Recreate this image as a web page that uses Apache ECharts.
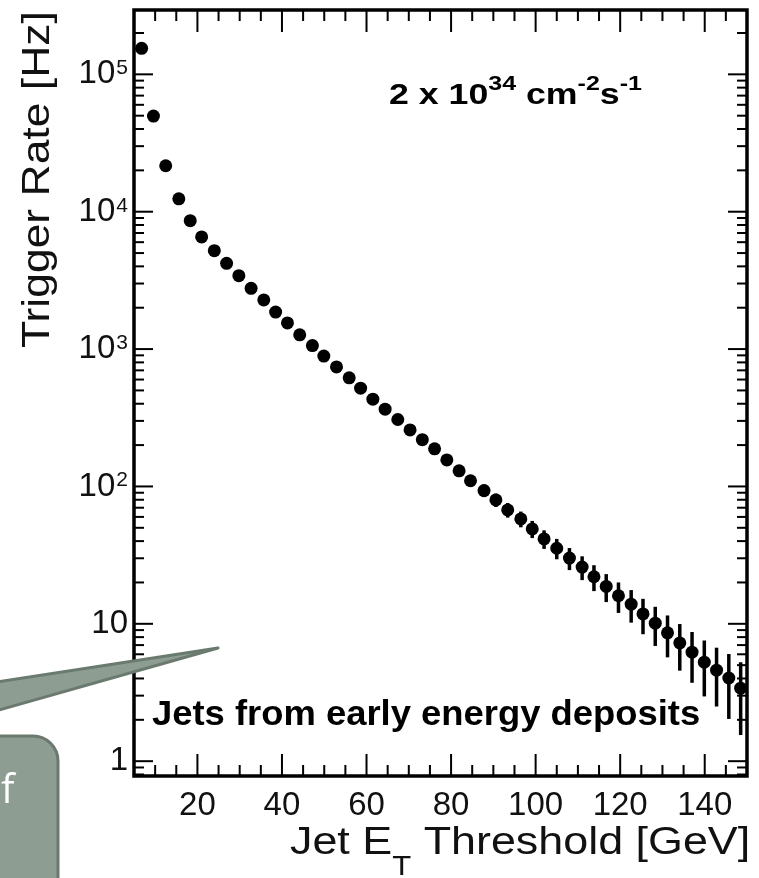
<!DOCTYPE html>
<html>
<head>
<meta charset="utf-8">
<script src="https://cdn.jsdelivr.net/npm/echarts@6.0.0/dist/echarts.min.js"></script>
<style>
  html, body { margin: 0; padding: 0; background: #fff; }
  #chart { width: 759px; height: 878px; }
</style>
</head>
<body>
<div id="chart"></div>
<script>
// jet E_T threshold [GeV]
const thresholds = [6.8, 9.6, 12.5, 15.6, 18.3, 21.0, 24.0, 26.9, 29.8, 32.7,
  35.7, 38.5, 41.3, 44.2, 47.2, 49.9, 52.9, 55.9, 58.6, 61.5,
  64.4, 67.4, 70.3, 73.2, 76.1, 79.0, 81.9, 84.6, 87.8, 90.6,
  93.4, 96.5, 99.2, 102.0, 105.0, 108.0, 111.0, 113.8, 116.7, 119.6,
  122.6, 125.4, 128.3, 131.2, 134.1, 137.0, 139.9, 142.8, 145.7, 148.5]

// trigger rate [Hz]
const rates = [154600, 49700, 21600, 12400, 8610, 6550, 5200, 4210, 3420, 2770,
  2280, 1860, 1550, 1270, 1060, 889, 741, 618, 519, 432,
  365, 307, 258, 219, 188, 156, 130, 110, 93.3, 79.8,
  67.5, 58.0, 49.1, 41.5, 35.5, 30.1, 25.9, 22.0, 18.7, 16.0,
  13.9, 11.8, 10.1, 8.6, 7.26, 6.22, 5.26, 4.60, 4.03, 3.40]

// half length of the error bars [Hz]
const rateErrors = [393, 223, 147, 111, 93, 81, 72, 65, 58, 53,
  48, 43, 39, 36, 33, 30, 27, 25, 23, 21,
  19, 17.5, 16, 14.8, 13.7, 12.5, 11.4, 10.5, 9.7, 8.9,
  8.2, 7.6, 7.0, 6.4, 6.0, 5.5, 5.1, 4.7, 4.3, 4.0,
  3.7, 3.4, 3.2, 2.9, 2.7, 2.5, 2.3, 2.1, 2.0, 1.85]

const xMajorTicks = [20, 40, 60, 80, 100, 120, 140]
const xMinorTicks = [10, 15, 25, 30, 35, 45, 50, 55, 65, 70, 75, 85, 90, 95,
  105, 110, 115, 125, 130, 135, 145]
const yMajorTicks = [1, 10, 100, 1000, 10000, 100000]
const yMinorTicks = []
for (let k = -1; k <= 5; k++) {
  for (let m = 2; m <= 9; m++) {
    const v = m * Math.pow(10, k)
    if (v > 0.78 && v < 2.94e5) yMinorTicks.push(v)
  }
}

const X_MIN = 5, X_MAX = 150
const Y_MIN = 0.78, Y_MAX = 2.94e5
const FONT = '"Liberation Sans", Arial, Helvetica, sans-serif'
const INK = '#000'

function yLabel(v) {
  const lg = Math.log10(v)
  const k = Math.round(lg)
  if (Math.abs(lg - k) > 1e-6) return ''
  if (k === 0) return '1'
  if (k === 1) return '10'
  return '{b|10}{s|' + k + '}'
}

function renderXTick(params, api) {
  const cs = params.coordSys
  const px = api.coord([api.value(0), 1])[0]
  const len = api.value(1)
  const bottom = cs.y + cs.height
  return {
    type: 'group',
    children: [
      { type: 'line', shape: { x1: px, y1: bottom, x2: px, y2: bottom - len }, style: { stroke: INK, lineWidth: 2 } },
      { type: 'line', shape: { x1: px, y1: cs.y, x2: px, y2: cs.y + len }, style: { stroke: INK, lineWidth: 2 } },
    ],
  }
}

function renderYTick(params, api) {
  const cs = params.coordSys
  const py = api.coord([10, api.value(1)])[1]
  const len = api.value(2)
  const right = cs.x + cs.width
  return {
    type: 'group',
    children: [
      { type: 'line', shape: { x1: cs.x, y1: py, x2: cs.x + len, y2: py }, style: { stroke: INK, lineWidth: 2 } },
      { type: 'line', shape: { x1: right, y1: py, x2: right - len, y2: py }, style: { stroke: INK, lineWidth: 2 } },
    ],
  }
}

function renderErrorBar(params, api) {
  const x = api.value(0), v = api.value(1), e = api.value(2)
  const lo = api.coord([x, Math.max(v - e, Y_MIN)])
  const hi = api.coord([x, v + e])
  return {
    type: 'line',
    shape: { x1: lo[0], y1: lo[1], x2: hi[0], y2: hi[1] },
    style: { stroke: INK, lineWidth: 3.5 },
  }
}

const chart = echarts.init(document.getElementById('chart'), null, { renderer: 'canvas' })

const calloutFill = '#8e9d92'
const calloutEdge = '#6b7a6f'

chart.setOption({
  animation: false,
  backgroundColor: '#fff',
  grid: {
    left: 134, top: 10, right: 12, bottom: 102,
    show: true, borderColor: INK, borderWidth: 3.5, backgroundColor: 'transparent',
  },
  xAxis: {
    type: 'value',
    min: X_MIN, max: X_MAX, interval: 5,
    axisLine: { show: false },
    axisTick: { show: false },
    splitLine: { show: false },
    axisLabel: {
      margin: 13,
      fontSize: 33,
      fontFamily: FONT,
      color: '#111',
      formatter: (v) => (v % 20 === 0 ? String(v) : ''),
    },
  },
  yAxis: {
    type: 'log',
    logBase: 10,
    min: Y_MIN, max: Y_MAX,
    axisLine: { show: false },
    axisTick: { show: false },
    splitLine: { show: false },
    axisLabel: {
      margin: 6,
      fontSize: 33,
      fontFamily: FONT,
      color: '#111',
      formatter: yLabel,
      rich: {
        b: { fontSize: 33, lineHeight: 33, fontFamily: FONT, color: '#111' },
        s: { fontSize: 21, lineHeight: 18, verticalAlign: 'top', fontFamily: FONT, color: '#111', padding: [0, 0, 0, 1] },
      },
    },
  },
  series: [
    {
      type: 'custom',
      name: 'errors',
      renderItem: renderErrorBar,
      clip: true,
      encode: { x: 0, y: 1 },
      data: thresholds.map((x, i) => [x, rates[i], rateErrors[i]]),
      z: 2,
      silent: true,
    },
    {
      type: 'scatter',
      name: 'rate',
      symbol: 'circle',
      symbolSize: 13,
      itemStyle: { color: INK, opacity: 1 },
      data: thresholds.map((x, i) => [x, rates[i]]),
      z: 3,
    },
    {
      type: 'custom',
      name: 'xticks',
      renderItem: renderXTick,
      clip: false,
      silent: true,
      encode: { x: 0, y: 1 },
      data: xMajorTicks.map((v) => [v, 22]).concat(xMinorTicks.map((v) => [v, 11])),
      z: 4,
    },
    {
      type: 'custom',
      name: 'yticks',
      renderItem: renderYTick,
      clip: false,
      silent: true,
      encode: { x: 0, y: 1 },
      data: yMajorTicks.map((v) => [10, v, 19]).concat(yMinorTicks.map((v) => [10, v, 10])),
      z: 4,
    },
  ],
  graphic: [
    {
      type: 'text',
      x: 389, y: 73.5,
      scaleX: 1.19,
      style: {
        text: '{b|2 x 10}{s|34}{b| cm}{s|-2}{b|s}{s|-1}',
        align: 'left', verticalAlign: 'top',
        fill: INK,
        rich: {
          b: { fontSize: 30, lineHeight: 44, fontWeight: 'bold', fontFamily: FONT, fill: INK },
          s: { fontSize: 21, lineHeight: 22, verticalAlign: 'top', fontWeight: 'bold', fontFamily: FONT, fill: INK },
        },
      },
      z: 10,
    },
    {
      type: 'text',
      x: 152, y: 715,
      scaleX: 1.04,
      style: {
        text: 'Jets from early energy deposits',
        font: 'bold 35px ' + FONT,
        fill: INK,
        align: 'left', verticalAlign: 'middle',
      },
      z: 10,
    },
    {
      type: 'text',
      x: 290, y: 824,
      scaleX: 1.15,
      style: {
        text: '{b|Jet E}{t|T}{b| Threshold [GeV]}',
        align: 'left', verticalAlign: 'top',
        fill: '#111',
        rich: {
          b: { fontSize: 39, lineHeight: 40, verticalAlign: 'top', fontFamily: FONT, fill: '#111' },
          t: { fontSize: 27, lineHeight: 88, fontFamily: FONT, fill: '#111' },
        },
      },
      z: 10,
    },
    {
      type: 'text',
      x: 38.5, y: 348,
      rotation: Math.PI / 2,
      scaleX: 1.17,
      style: {
        text: 'Trigger Rate [Hz]',
        font: '38px ' + FONT,
        fill: '#111',
        align: 'left', verticalAlign: 'middle',
      },
      z: 10,
    },
    // slide callout overlapping the plot
    {
      type: 'polygon',
      shape: { points: [[218, 648], [-100, 697], [-100, 738]] },
      style: { fill: calloutFill, stroke: calloutEdge, lineWidth: 3, lineJoin: 'round' },
      z: 20,
    },
    {
      type: 'rect',
      shape: { x: -40, y: 736, width: 98, height: 220, r: 25 },
      style: { fill: calloutFill, stroke: calloutEdge, lineWidth: 3 },
      z: 20,
    },
    {
      type: 'text',
      x: 1, y: 792,
      style: {
        text: 'f',
        font: '40px "Open Sans", sans-serif',
        fill: '#fff',
        align: 'left', verticalAlign: 'middle',
      },
      z: 21,
    },
  ],
})
</script>
</body>
</html>
